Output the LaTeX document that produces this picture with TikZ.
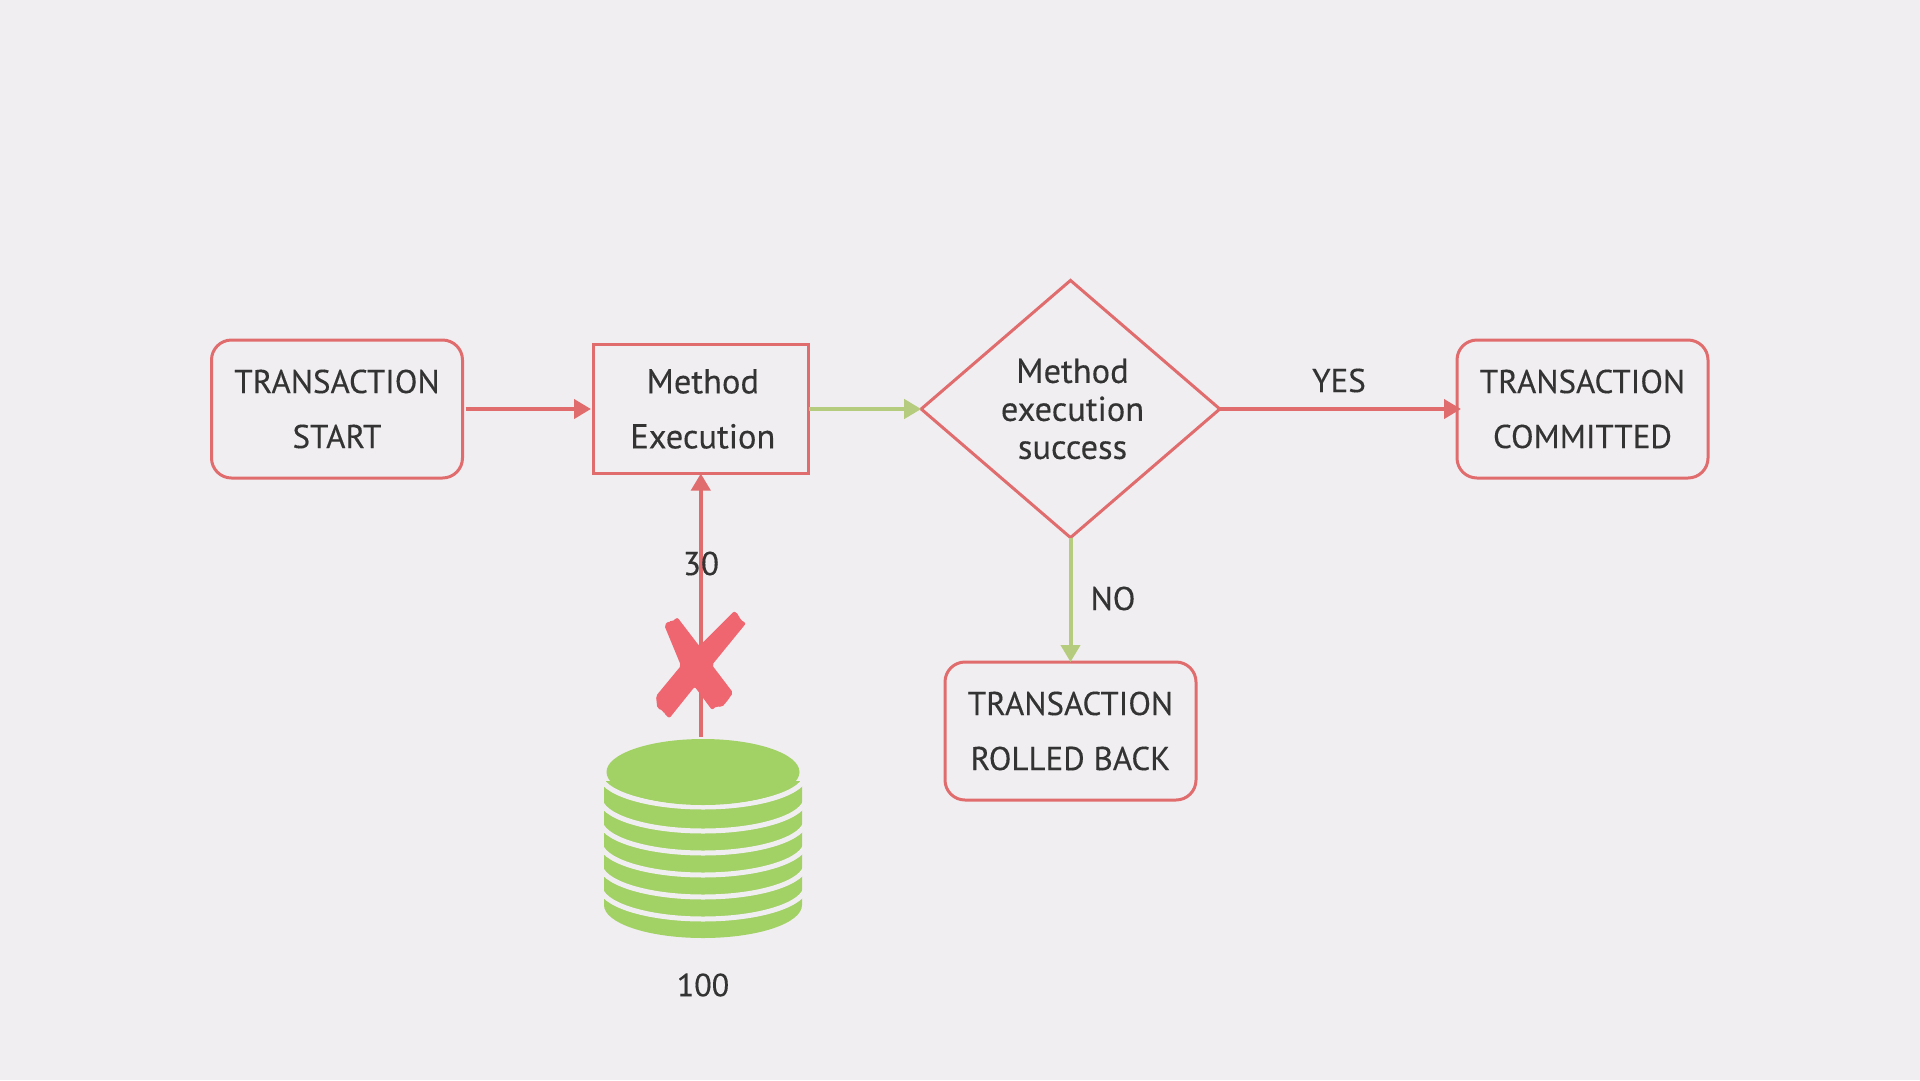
\documentclass[tikz,border=0pt]{standalone}
\usepackage{fontspec}
\setmainfont{PT Sans}[FakeBold=0.25]
\usetikzlibrary{arrows.meta,shapes.geometric}
\definecolor{bgcol}{HTML}{F0EEF1}
\definecolor{linered}{HTML}{E06C6E}
\definecolor{linegreen}{HTML}{B5CC7F}
\definecolor{dbgreen}{HTML}{A2D165}
\definecolor{crossred}{HTML}{EF6670}
\definecolor{textcol}{HTML}{333333}
\begin{document}
\begin{tikzpicture}[x=1pt,y=-1pt,text=textcol,
    font=\fontsize{33}{55}\selectfont,
    box/.style={draw=linered,line width=3pt,align=center,inner sep=0pt,outer sep=0pt,
      minimum width=251pt,minimum height=138pt},
    endbox/.style={box,rounded corners=20pt},
    redflow/.style={draw=linered,line width=4pt,-{Triangle[length=17pt,width=19pt]}},
    greenflow/.style={redflow,draw=linegreen},
    lbl/.style={inner sep=0pt}]
  \fill[bgcol] (0,0) rectangle (1920,1080);
  \useasboundingbox (0,0) rectangle (1920,1080);
  \node[endbox] (start) at (337,409) {TRANSACTION\\START};
  \node[box,minimum width=215.6pt,minimum height=129pt,font=\fontsize{34.5}{55}\selectfont] (method) at (700.8,409)
    {\hspace*{4pt}Method\\\hspace*{4pt}Execution};
  \node[draw=linered,line width=3pt,diamond,inner sep=0pt,outer sep=0pt,minimum width=298.6pt,
    minimum height=257.2pt,align=center,font=\fontsize{34.5}{38}\selectfont] (check) at (1070.5,409)
    {\hspace*{4pt}Method\\\hspace*{4pt}execution\\\hspace*{4pt}success};
  \node[endbox] (committed) at (1582.5,409) {TRANSACTION\\COMMITTED};
  \node[endbox] (rolled) at (1070.5,731) {TRANSACTION\\ROLLED BACK};
  \coordinate (dbtop) at (700.8,736.7);
  \draw[redflow,shorten <=3pt,shorten >=2pt] (start.east) -- (method.west);
  \draw[greenflow] (method.east) -- (check.west);
  \draw[redflow,shorten >=-4pt] (check.east) -- (committed.west);
  \draw[greenflow] (check.south) -- (rolled.north);
  \draw[redflow] (dbtop) -- (method.south);
  \node[lbl] (yes) at (1339,380.5) {YES};
  \node[lbl] (no) at (1113,598.5) {NO};
  \node[lbl] (amount) at (701,563.5) {30};
  \node[lbl,font=\fontsize{32}{38}\selectfont] (balance) at (703,985) {100};
  \fill[dbgreen] (604,781) -- (802,781) -- (802,905) arc[start angle=0,end angle=180,
    x radius=99,y radius=33] -- cycle;
  \foreach \y in {807,831,853,875,897,919}
    \draw[bgcol,line width=5pt] (600,\y-33) arc[start angle=180,end angle=360,x radius=103,y radius=-33];
  \fill[dbgreen] (703,772) ellipse [x radius=96.5,y radius=33];
  \fill[crossred,rounded corners=2pt] (664.3,625.3)--(668.7,621)--(672,621.7)--(677.3,617.3)--(699.3,646)
    --(734.3,611)--(738.7,615)--(740,619.3)--(746,623.3)--(712,665)--(733,692.7)--(726.7,701.7)
    --(721.7,707.3)--(716.7,706)--(712,710)--(694.7,686.7)--(669.3,718.3)--(664,713.3)--(663.3,710.7)
    --(657.3,708.3)--(656,696)--(681,665.7)--cycle;
\end{tikzpicture}
\end{document}
